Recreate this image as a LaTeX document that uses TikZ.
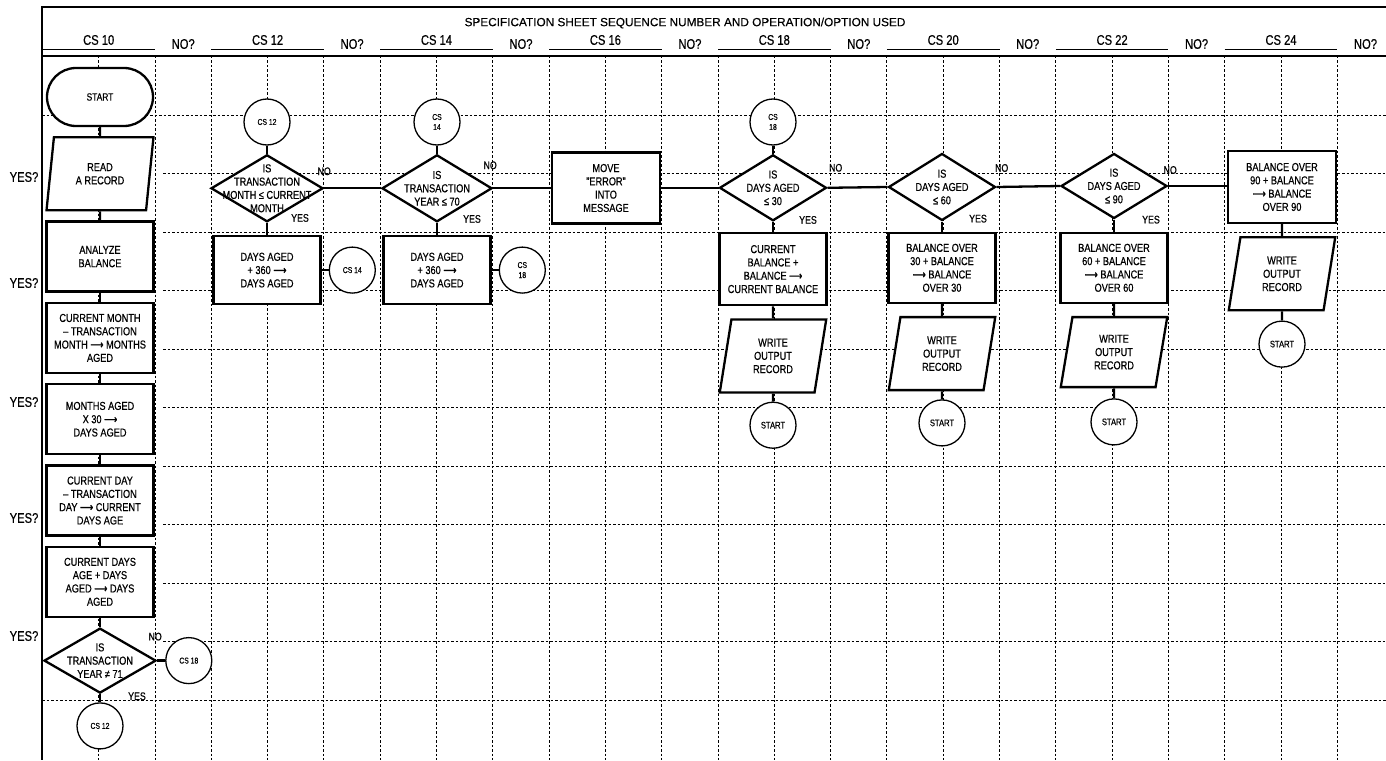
\documentclass[tikz,border=0pt]{standalone}
\usepackage{fontspec}
\setmainfont{Liberation Sans}[FakeStretch=0.8, FakeBold=0.5]
\newfontfamily\titlefont{Liberation Sans}[FakeBold=0.3]
\newfontfamily\arrowfont{DejaVu Sans}[FakeStretch=0.8, FakeBold=1.5]
\newcommand{\gives}{{\arrowfont ⟶}}
\usetikzlibrary{positioning,shapes.geometric}
\tikzset{
  st/.style={rectangle, rounded corners=29pt, minimum width=106pt, minimum height=58pt, line width=2.3pt, draw=black, fill=white, font=\fontsize{10.5}{12}\selectfont},
  io/.style={trapezium, trapezium left angle=81, trapezium right angle=99, trapezium stretches=true, minimum width=107pt, minimum height=73pt, align=center, line width=2.3pt, draw=black, fill=white, font=\fontsize{11.5}{13.3}\selectfont},
  op/.style={rectangle, minimum width=107pt, minimum height=70pt, align=center, line width=2.3pt, draw=black, fill=white, font=\fontsize{11.5}{13.3}\selectfont},
  cn/.style={diamond, minimum width=108pt, minimum height=66pt, inner sep=0pt, line width=2.3pt, draw=black, fill=white},
  sc/.style={circle, minimum size=46pt, inner sep=0pt, align=center, line width=1.3pt, draw=black, fill=white, font=\fontsize{8.5}{10}\selectfont},
  tx/.style={align=center, inner sep=0pt, font=\fontsize{11.5}{13.3}\selectfont},
  yn/.style={inner sep=0pt, font=\fontsize{11}{12}\selectfont},
  hd/.style={inner sep=0pt, font=\fontsize{14}{15}\selectfont},
  grd/.style={line width=0.9pt, dash pattern=on 2.5pt off 2pt},
  ln/.style={line width=2.3pt},
  node distance=9pt
}

\begin{document}
\begin{tikzpicture}[x=1pt, y=-1pt]
	\useasboundingbox (0,0) rectangle (1386,760);
	% grid of the sheet
	\foreach \k in {1,...,23}
		\draw[grd] ({42.4+56.3*\k},56) -- ({42.4+56.3*\k},760);
	\foreach \j in {2,...,10}
		\draw[grd] (163,{56.5+58.5*\j}) -- (1386,{56.5+58.5*\j});
	\foreach \j in {1,11}
		\draw[grd] (42,{56.5+58.5*\j}) -- (1386,{56.5+58.5*\j});
	
	% frame and heading
	\draw[line width=1.2pt] (1386,7) -- (42,7) -- (42,760);
	\draw[line width=1.6pt] (42,56) -- (1386,56);
	\node[inner sep=0pt, font=\titlefont\fontsize{11.8}{14}\selectfont] (title) at (685,23) {SPECIFICATION SHEET SEQUENCE NUMBER AND OPERATION/OPTION USED};
	\foreach \j/\n in {0/10,1/12,2/14,3/16,4/18,5/20,6/22,7/24} {
		\draw[line width=1pt] ({42.4+168.9*\j},50) -- ({155+168.9*\j},50);
		\node[hd] (cs\n) at ({98.7+168.9*\j},40) {CS \n};
		\node[hd] (no\n) at ({183.2+168.9*\j},44) {NO?};
	}
	\foreach \y [count=\i] in {177,283,402,518,636}
		\node[hd] (yes\i) at (24,\y) {YES?};
	
	% CS 10
	\node[st] (start) at (100,97) {START};
	\node[io, below=of start] (read) {READ\\A RECORD};
	\node[op, below=of read] (anl) {ANALYZE\\BALANCE};
	\node[op, below=of anl] (cmon) {CURRENT MONTH\\-- TRANSACTION\\MONTH \gives{} MONTHS\\AGED};
	\node[op, below=of cmon] (mage) {MONTHS AGED\\X 30 \gives\\DAYS AGED};
	\node[op, below=of mage] (cday) {CURRENT DAY\\-- TRANSACTION\\DAY \gives{} CURRENT\\DAYS AGE};
	\node[op, below=of cday] (cdage) {CURRENT DAYS\\AGE + DAYS\\AGED \gives{} DAYS\\AGED};
	\node[cn, below=of cdage, minimum width=112pt, minimum height=65pt] (yr71) {};
	\node[tx] (yr71t) at (yr71) {IS\\TRANSACTION\\YEAR ≠ 71};
	\node[sc, right=8pt of yr71] (go18a) {CS 18};
	\node[sc, below=8pt of yr71] (go12) {CS 12};
	\node[yn] (yr71no) at ([shift={(-2pt,24pt)}]yr71.east) {NO};
	\node[yn] (yr71yes) at ([shift={(37pt,-2pt)}]yr71.south) {YES};
	
	% CS 12
	\node[sc] (in12) at (267,122) {CS 12};
	\node[cn, below=8pt of in12, minimum width=112pt, minimum height=67pt] (mon) {};
	\node[tx] (mont) at (mon) {IS\\TRANSACTION\\MONTH ≤ CURRENT\\MONTH};
	\node[op, below=12pt of mon, minimum height=68pt] (add12) {DAYS AGED\\+ 360 \gives\\DAYS AGED};
	\node[sc, right=7pt of add12] (go14) {CS 14};
	\node[yn] (monno) at ([shift={(0pt,17pt)}]mon.east) {NO};
	\node[yn] (monyes) at ([shift={(33pt,5pt)}]mon.south) {YES};
	
	% CS 14
	\node[sc] (in14) at (437,122) {CS\\14};
	\node[cn, below=8pt of in14, minimum width=110pt, minimum height=67pt] (yr70) {};
	\node[tx] (yr70t) at (yr70) {IS\\TRANSACTION\\YEAR ≤ 70};
	\node[op, below=12pt of yr70, minimum height=68pt] (add14) {DAYS AGED\\+ 360 \gives\\DAYS AGED};
	\node[sc, right=7pt of add14] (go18b) {CS\\18};
	\node[yn] (yr70no) at ([shift={(-3pt,23pt)}]yr70.east) {NO};
	\node[yn] (yr70yes) at ([shift={(35pt,4pt)}]yr70.south) {YES};
	
	% CS 16
	\node[op, minimum width=108pt, minimum height=71pt] (err) at (606,188) {MOVE\\"ERROR"\\INTO\\MESSAGE};
	
	% CS 18
	\node[sc] (in18) at (773,122) {CS\\18};
	\node[cn, below=8pt of in18, minimum width=107pt] (d30) {};
	\node[tx] (d30t) at (d30) {IS\\DAYS AGED\\≤ 30};
	\node[op, below=10pt of d30, minimum height=72pt] (cur) {CURRENT\\BALANCE +\\BALANCE \gives\\CURRENT BALANCE};
	\node[io, below=12pt of cur] (wr18) {WRITE\\OUTPUT\\RECORD};
	\node[sc, below=8pt of wr18, font=\fontsize{9.5}{11}\selectfont] (st18) {START};
	\node[yn] (d30no) at ([shift={(8pt,20pt)}]d30.east) {NO};
	\node[yn] (d30yes) at ([shift={(35pt,2pt)}]d30.south) {YES};
	
	% CS 20
	\node[cn, minimum width=107pt, minimum height=67pt] (d60) at (942,187) {};
	\node[tx] (d60t) at (d60) {IS\\DAYS AGED\\≤ 60};
	\node[op, below=10pt of d60] (ov30) {BALANCE OVER\\30 + BALANCE\\\gives{} BALANCE\\OVER 30};
	\node[io, below=12pt of ov30] (wr20) {WRITE\\OUTPUT\\RECORD};
	\node[sc, below=8pt of wr20, font=\fontsize{9.5}{11}\selectfont] (st20) {START};
	\node[yn] (d60no) at ([shift={(5pt,19pt)}]d60.east) {NO};
	\node[yn] (d60yes) at ([shift={(36pt,3pt)}]d60.south) {YES};
	
	% CS 22
	\node[cn, minimum width=106pt, minimum height=65pt] (d90) at (1114,186) {};
	\node[tx] (d90t) at (d90) {IS\\DAYS AGED\\≤ 90};
	\node[op, below=12pt of d90] (ov60) {BALANCE OVER\\60 + BALANCE\\\gives{} BALANCE\\OVER 60};
	\node[io, below=12pt of ov60, minimum height=70pt] (wr22) {WRITE\\OUTPUT\\RECORD};
	\node[sc, below=10pt of wr22, font=\fontsize{9.5}{11}\selectfont] (st22) {START};
	\node[yn] (d90no) at ([shift={(2pt,16pt)}]d90.east) {NO};
	\node[yn] (d90yes) at ([shift={(37pt,0pt)}]d90.south) {YES};
	
	% CS 24
	\node[op, minimum width=108pt, minimum height=72pt] (ov90) at (1282,187) {BALANCE OVER\\90 + BALANCE\\\gives{} BALANCE\\OVER 90};
	\node[io, below=12pt of ov90] (wr24) {WRITE\\OUTPUT\\RECORD};
	\node[sc, below=9pt of wr24, font=\fontsize{9.5}{11}\selectfont] (st24) {START};
	
	% flow lines
	\draw[ln] (start) -- (read);
	\draw[ln] (read) -- (anl);
	\draw[ln] (anl) -- (cmon);
	\draw[ln] (cmon) -- (mage);
	\draw[ln] (mage) -- (cday);
	\draw[ln] (cday) -- (cdage);
	\draw[ln] (cdage) -- (yr71);
	\draw[ln] (yr71) -- (go12);
	\draw[ln] (yr71) -- (go18a);
	\draw[ln] (in12) -- (mon);
	\draw[ln] (mon) -- (add12);
	\draw[ln] (add12) -- (go14);
	\draw[ln] (mon.east) -- (yr70.west);
	\draw[ln] (in14) -- (yr70);
	\draw[ln] (yr70) -- (add14);
	\draw[ln] (add14) -- (go18b);
	\draw[ln] (yr70.east) -- (yr70.east -| err.west);
	\draw[ln] (err.east |- d30.west) -- (d30.west);
	\draw[ln] (in18) -- (d30);
	\draw[ln] (d30) -- (cur);
	\draw[ln] (cur) -- (wr18);
	\draw[ln] (wr18) -- (st18);
	\draw[ln] (d30.east) -- (d60.west);
	\draw[ln] (d60) -- (ov30);
	\draw[ln] (ov30) -- (wr20);
	\draw[ln] (wr20) -- (st20);
	\draw[ln] (d60.east) -- (d90.west);
	\draw[ln] (d90) -- (ov60);
	\draw[ln] (ov60) -- (wr22);
	\draw[ln] (wr22) -- (st22);
	\draw[ln] (d90.east) -- (d90.east -| ov90.west);
	\draw[ln] (ov90) -- (wr24);
	\draw[ln] (wr24) -- (st24);
\end{tikzpicture}
\end{document}
